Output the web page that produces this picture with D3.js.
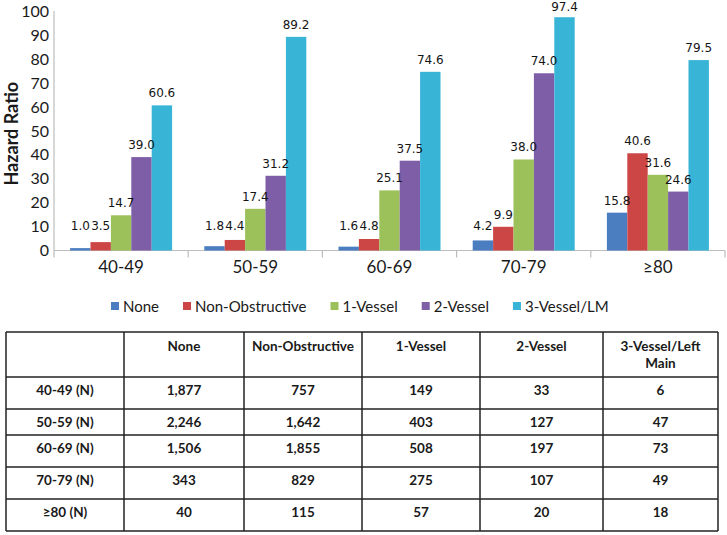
<!DOCTYPE html>
<html>
<head>
<meta charset="utf-8">
<script src="https://cdn.jsdelivr.net/npm/d3@7"></script>
<style>
  html, body { margin: 0; padding: 0; background: #fff; }
  svg { display: block; }
</style>
</head>
<body>
<svg id="chart" width="727" height="535"></svg>
<script>
// ---------- DATA ----------
const categories = ["40-49", "50-59", "60-69", "70-79", "≥80"];
const seriesNames = ["None", "Non-Obstructive", "1-Vessel", "2-Vessel", "3-Vessel/LM"];
const noneValues = [1.0, 1.8, 1.6, 4.2, 15.8];
const nonObstructiveValues = [3.5, 4.4, 4.8, 9.9, 40.6];
const oneVesselValues = [14.7, 17.4, 25.1, 38.0, 31.6];
const twoVesselValues = [39.0, 31.2, 37.5, 74.0, 24.6];
const threeVesselValues = [60.6, 89.2, 74.6, 97.4, 79.5];
const yTicks = [0, 10, 20, 30, 40, 50, 60, 70, 80, 90, 100];
const yAxisTitle = "Hazard Ratio";

const tableHeaders = ["", "None", "Non-Obstructive", "1-Vessel", "2-Vessel", "3-Vessel/Left|Main"];
const tableRowLabels = ["40-49 (N)", "50-59 (N)", "60-69 (N)", "70-79 (N)", "≥80 (N)"];
const tableNone = ["1,877", "2,246", "1,506", "343", "40"];
const tableNonObstructive = ["757", "1,642", "1,855", "829", "115"];
const tableOneVessel = ["149", "403", "508", "275", "57"];
const tableTwoVessel = ["33", "127", "197", "107", "20"];
const tableThreeVessel = ["6", "47", "73", "49", "18"];

const seriesColors = ["#4a7ec0", "#cc4646", "#9cc05a", "#7f5ea8", "#37b4d6"];

// ---------- CHART ----------
const seriesValues = [noneValues, nonObstructiveValues, oneVesselValues, twoVesselValues, threeVesselValues];
const svg = d3.select("#chart");
svg.append("rect").attr("width", 727).attr("height", 535).attr("fill", "#fff");

const x0 = d3.scaleBand().domain(categories).range([54, 725]).paddingInner(0.24).paddingOuter(0.12);
const x1 = d3.scaleBand().domain(seriesNames).range([0, x0.bandwidth()]);
const y = d3.scaleLinear().domain([0, 100]).range([250.5, 11]);
const step = x0.step();

// axis lines
svg.append("line").attr("x1", 54).attr("x2", 54).attr("y1", y(100)).attr("y2", y(0))
  .attr("stroke", "#bdbdbd").attr("stroke-width", 1.2);
svg.append("line").attr("x1", 54).attr("x2", 725).attr("y1", y(0)).attr("y2", y(0))
  .attr("stroke", "#bdbdbd").attr("stroke-width", 1.2);
d3.range(categories.length + 1).forEach(i => {
  const xx = 54 + i * step;
  svg.append("line").attr("x1", xx).attr("x2", xx).attr("y1", y(0)).attr("y2", y(0) + 7)
    .attr("stroke", "#bdbdbd").attr("stroke-width", 1.2);
});

// y tick labels
svg.append("g").selectAll("text").data(yTicks).join("text")
  .attr("x", 49).attr("y", d => y(d)).attr("dy", "0.36em")
  .attr("text-anchor", "end")
  .attr("font-family", "Lato, sans-serif").attr("font-size", 16).attr("fill", "#1a1a1a")
  .text(d => d);

// y title
svg.append("text")
  .attr("transform", `translate(18,${(y(0) + y(100)) / 2 + 3}) rotate(-90)`)
  .attr("text-anchor", "middle")
  .attr("font-family", "Lato, sans-serif").attr("font-weight", "bold").attr("font-size", 18)
  .attr("fill", "#1a1a1a")
  .text(yAxisTitle);

// category labels
svg.append("g").selectAll("text").data(categories).join("text")
  .attr("x", d => x0(d) + x0.bandwidth() / 2).attr("y", 273)
  .attr("text-anchor", "middle")
  .attr("font-family", "Lato, sans-serif").attr("font-size", 17).attr("fill", "#1a1a1a")
  .text(d => d);

// bars
const barData = [];
categories.forEach((c, ci) => {
  seriesNames.forEach((s, si) => {
    barData.push({ cat: c, series: s, si, value: seriesValues[si][ci] });
  });
});

svg.append("g").selectAll("rect").data(barData).join("rect")
  .attr("x", d => x0(d.cat) + x1(d.series))
  .attr("y", d => y(d.value))
  .attr("width", x1.bandwidth())
  .attr("height", d => y(0) - y(d.value))
  .attr("fill", d => seriesColors[d.si]);

const fmt = d3.format(".1f");
svg.append("g").selectAll("text").data(barData).join("text")
  .attr("x", d => x0(d.cat) + x1(d.series) + x1.bandwidth() / 2)
  .attr("y", d => Math.max(Math.min(y(d.value) - 8, 230), 10.5))
  .attr("text-anchor", "middle")
  .attr("font-family", "'DejaVu Sans', sans-serif").attr("font-size", 12).attr("fill", "#151515")
  .text(d => fmt(d.value));

// legend
const legend = svg.append("g");
let lx = 111;
seriesNames.forEach((s, i) => {
  legend.append("rect").attr("x", lx).attr("y", 302).attr("width", 8).attr("height", 8)
    .attr("fill", seriesColors[i]);
  const t = legend.append("text").attr("x", lx + 12).attr("y", 311.5)
    .attr("font-family", "Lato, sans-serif").attr("font-size", 15).attr("fill", "#1a1a1a")
    .text(s);
  lx += 12 + t.node().getComputedTextLength() + 24;
});

// ---------- TABLE ----------
const colEdges = [6, 124, 244, 362, 480, 603, 718];
const rowEdges = [332, 377, 409, 435, 467, 499, 531];
const tableCols = [tableRowLabels, tableNone, tableNonObstructive, tableOneVessel, tableTwoVessel, tableThreeVessel];
const tg = svg.append("g");
const tfont = { family: "Lato, sans-serif", size: 13.5 };

// grid lines
rowEdges.forEach(ry => {
  tg.append("line").attr("x1", colEdges[0]).attr("x2", colEdges[colEdges.length - 1])
    .attr("y1", ry).attr("y2", ry).attr("stroke", "#222").attr("stroke-width", 1.5);
});
colEdges.forEach(cx => {
  tg.append("line").attr("x1", cx).attr("x2", cx)
    .attr("y1", rowEdges[0]).attr("y2", rowEdges[rowEdges.length - 1])
    .attr("stroke", "#222").attr("stroke-width", 1.5);
});

// header
tableHeaders.forEach((h, ci) => {
  const cx = (colEdges[ci] + colEdges[ci + 1]) / 2;
  h.split("|").forEach((line, li) => {
    tg.append("text").attr("x", cx).attr("y", rowEdges[0] + 19 + li * 17)
      .attr("text-anchor", "middle")
      .attr("font-family", tfont.family).attr("font-weight", "bold").attr("font-size", tfont.size)
      .attr("fill", "#1a1a1a").text(line);
  });
});

// body
tableRowLabels.forEach((r, ri) => {
  tableCols.forEach((col, ci) => {
    const cx = (colEdges[ci] + colEdges[ci + 1]) / 2;
    tg.append("text").attr("x", cx).attr("y", rowEdges[ri + 1] + 18)
      .attr("text-anchor", "middle")
      .attr("font-family", tfont.family).attr("font-weight", "bold").attr("font-size", tfont.size)
      .attr("fill", "#1a1a1a").text(col[ri]);
  });
});
</script>
</body>
</html>
